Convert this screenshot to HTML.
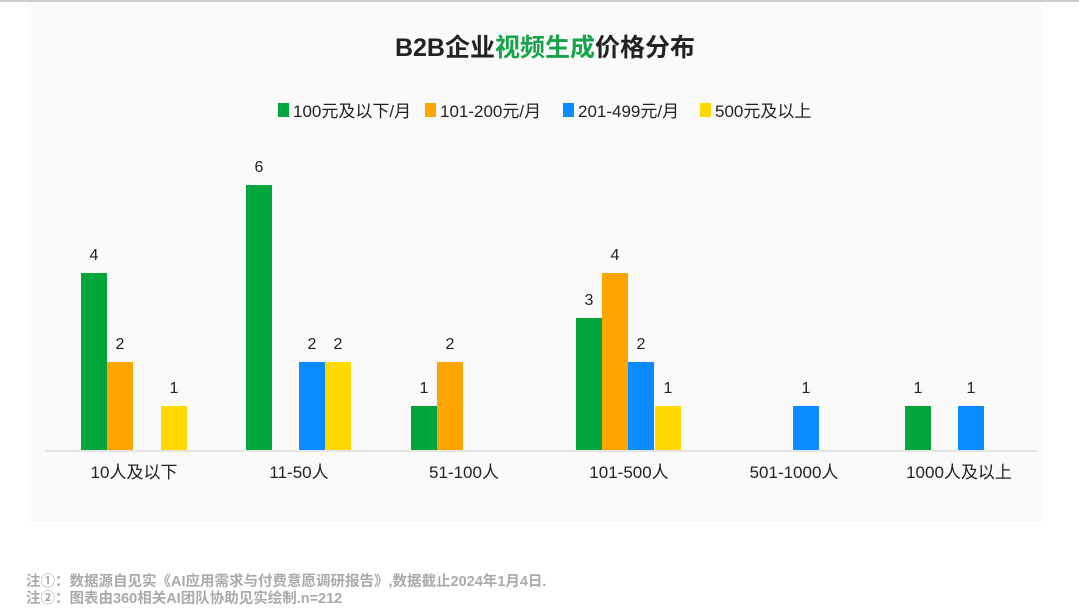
<!DOCTYPE html>
<html><head><meta charset="utf-8"><style>
body{margin:0;width:1079px;height:608px;background:#fff;overflow:hidden;font-family:"Liberation Sans","Noto Sans CJK SC",sans-serif;}
</style></head><body>
<svg width="1079" height="608" xmlns="http://www.w3.org/2000/svg" font-family="Liberation Sans, Noto Sans CJK SC, sans-serif">
<rect x="0" y="0" width="1079" height="608" fill="#fff"/>
<rect x="0" y="0" width="1079" height="2" fill="#ccc"/>
<rect x="28" y="2" width="1015" height="520" fill="#fafafa"/>
<text x="545" y="56" text-anchor="middle" font-size="25" font-weight="bold" fill="#222">B2B企业<tspan fill="#16a34a">视频生成</tspan>价格分布</text>
<g font-size="17" fill="#222">
<rect x="278" y="103" width="11" height="14" fill="#00a53c"/><text x="293" y="117">100元及以下/月</text>
<rect x="425" y="103" width="11" height="14" fill="#ffa500"/><text x="440" y="117">101-200元/月</text>
<rect x="563" y="103" width="11" height="14" fill="#0a8cff"/><text x="578" y="117">201-499元/月</text>
<rect x="700" y="103" width="11" height="14" fill="#ffd900"/><text x="715" y="117">500元及以上</text>
</g>
<line x1="45" y1="451" x2="1038" y2="451" stroke="#ddd" stroke-width="1.5"/>
<g font-size="16" fill="#222" text-anchor="middle">
<rect x="81" y="273" width="26" height="177" fill="#00a53c"/><text x="94" y="260">4</text>
<rect x="107" y="362" width="26" height="88" fill="#ffa500"/><text x="120" y="349">2</text>
<rect x="161" y="406" width="26" height="44" fill="#ffd900"/><text x="174" y="393">1</text>
<rect x="246" y="185" width="26" height="265" fill="#00a53c"/><text x="259" y="172">6</text>
<rect x="299" y="362" width="26" height="88" fill="#0a8cff"/><text x="312" y="349">2</text>
<rect x="325" y="362" width="26" height="88" fill="#ffd900"/><text x="338" y="349">2</text>
<rect x="411" y="406" width="26" height="44" fill="#00a53c"/><text x="424" y="393">1</text>
<rect x="437" y="362" width="26" height="88" fill="#ffa500"/><text x="450" y="349">2</text>
<rect x="576" y="318" width="26" height="132" fill="#00a53c"/><text x="589" y="305">3</text>
<rect x="602" y="273" width="26" height="177" fill="#ffa500"/><text x="615" y="260">4</text>
<rect x="628" y="362" width="26" height="88" fill="#0a8cff"/><text x="641" y="349">2</text>
<rect x="655" y="406" width="26" height="44" fill="#ffd900"/><text x="668" y="393">1</text>
<rect x="793" y="406" width="26" height="44" fill="#0a8cff"/><text x="806" y="393">1</text>
<rect x="905" y="406" width="26" height="44" fill="#00a53c"/><text x="918" y="393">1</text>
<rect x="958" y="406" width="26" height="44" fill="#0a8cff"/><text x="971" y="393">1</text>
</g>
<g font-size="17" fill="#222" text-anchor="middle">
<text x="134" y="478">10人及以下</text>
<text x="299" y="478">11-50人</text>
<text x="464" y="478">51-100人</text>
<text x="629" y="478">101-500人</text>
<text x="794" y="478">501-1000人</text>
<text x="959" y="478">1000人及以上</text>
</g>
<g font-size="14.5" font-weight="bold" fill="#aaa">
<text x="26" y="586">注①：数据源自见实《AI应用需求与付费意愿调研报告》,数据截止2024年1月4日.</text>
<text x="26" y="603">注②：图表由360相关AI团队协助见实绘制.n=212</text>
</g>
</svg>
</body></html>
